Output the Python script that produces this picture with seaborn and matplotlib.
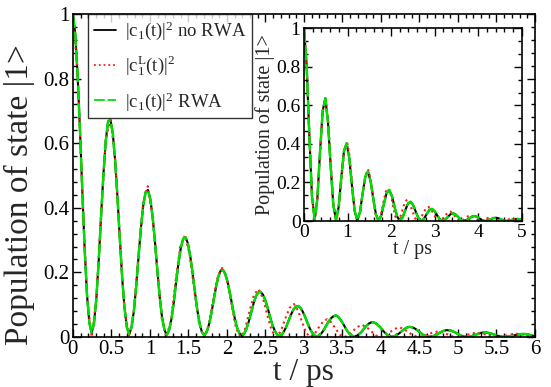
import numpy as np
import matplotlib
matplotlib.use("Agg")
import matplotlib.pyplot as plt
from matplotlib.ticker import MultipleLocator, FuncFormatter, AutoMinorLocator
from matplotlib.lines import Line2D
import seaborn as sns

# ---------------- data ----------------
# main panel: |c1(t)|^2 without RWA, sampled every 1/16 oscillation period
t_main = np.linspace(0, 198 * 0.03046875, 199)
pop_no_rwa = [
    1.000, 0.939, 0.813, 0.643, 0.453, 0.273, 0.132, 0.044, 0.012, 0.043, 0.120, 0.236, 0.373, 0.503, 0.607, 0.668,
    0.672, 0.631, 0.546, 0.432, 0.304, 0.183, 0.090, 0.030, 0.009, 0.030, 0.081, 0.159, 0.251, 0.338, 0.408, 0.449,
    0.455, 0.427, 0.370, 0.293, 0.206, 0.124, 0.061, 0.022, 0.007, 0.021, 0.056, 0.107, 0.170, 0.229, 0.276, 0.304,
    0.309, 0.290, 0.251, 0.199, 0.140, 0.084, 0.042, 0.015, 0.005, 0.015, 0.038, 0.073, 0.115, 0.155, 0.188, 0.206,
    0.207, 0.194, 0.168, 0.133, 0.094, 0.057, 0.028, 0.011, 0.004, 0.010, 0.026, 0.049, 0.077, 0.104, 0.126, 0.138,
    0.140, 0.131, 0.114, 0.090, 0.063, 0.038, 0.020, 0.008, 0.003, 0.007, 0.018, 0.033, 0.052, 0.070, 0.085, 0.094,
    0.096, 0.090, 0.078, 0.062, 0.043, 0.026, 0.013, 0.005, 0.002, 0.005, 0.012, 0.023, 0.036, 0.048, 0.058, 0.064,
    0.067, 0.063, 0.054, 0.043, 0.030, 0.018, 0.009, 0.004, 0.002, 0.004, 0.009, 0.016, 0.025, 0.034, 0.041, 0.045,
    0.046, 0.043, 0.037, 0.030, 0.021, 0.013, 0.006, 0.002, 0.001, 0.002, 0.006, 0.011, 0.017, 0.023, 0.028, 0.031,
    0.031, 0.029, 0.025, 0.020, 0.014, 0.008, 0.004, 0.002, 0.001, 0.002, 0.004, 0.007, 0.012, 0.016, 0.019, 0.021,
    0.021, 0.020, 0.017, 0.014, 0.010, 0.006, 0.003, 0.001, 0.001, 0.001, 0.003, 0.005, 0.008, 0.011, 0.013, 0.014,
    0.014, 0.013, 0.011, 0.009, 0.006, 0.004, 0.002, 0.001, 0.0005, 0.001, 0.002, 0.003, 0.005, 0.007, 0.008, 0.009,
    0.0095, 0.009, 0.008, 0.006, 0.004, 0.003, 0.001,
]
# RWA curve lies on top of the non-RWA one
pop_rwa = list(pop_no_rwa)

# Lorentzian |c1^L(t)|^2 (slight phase drift at later times)
t_lor = [
    0.000, 0.061, 0.122, 0.183, 0.244, 0.304, 0.365, 0.426,
    0.487, 0.548, 0.608, 0.669, 0.730, 0.790, 0.851, 0.911,
    0.972, 1.032, 1.093, 1.153, 1.214, 1.274, 1.334, 1.395,
    1.455, 1.516, 1.578, 1.639, 1.700, 1.761, 1.822, 1.884,
    1.945, 2.003, 2.061, 2.119, 2.178, 2.236, 2.294, 2.352,
    2.410, 2.468, 2.525, 2.583, 2.640, 2.698, 2.755, 2.813,
    2.870, 2.924, 2.978, 3.031, 3.085, 3.139, 3.193, 3.246,
    3.300, 3.356, 3.413, 3.469, 3.525, 3.581, 3.638, 3.694,
    3.750, 3.811, 3.873, 3.934, 3.995, 4.056, 4.118, 4.179,
    4.240, 4.303, 4.365, 4.428, 4.490, 4.553, 4.615, 4.678,
    4.740, 4.804, 4.868, 4.931, 4.995, 5.059, 5.123, 5.186,
    5.250, 5.314, 5.378, 5.441, 5.505, 5.569, 5.633, 5.696,
    5.760, 5.824, 5.888, 5.951, 6.015,
]
pop_lor = [
    1.000, 0.813, 0.453, 0.126, 0.000, 0.114, 0.372, 0.606,
    0.680, 0.553, 0.308, 0.086, 0.000, 0.078, 0.253, 0.412,
    0.467, 0.380, 0.212, 0.059, 0.000, 0.053, 0.174, 0.283,
    0.314, 0.255, 0.142, 0.040, 0.000, 0.036, 0.117, 0.190,
    0.216, 0.176, 0.098, 0.027, 0.000, 0.025, 0.080, 0.131,
    0.148, 0.120, 0.067, 0.019, 0.000, 0.017, 0.055, 0.090,
    0.102, 0.082, 0.045, 0.012, 0.000, 0.010, 0.030, 0.047,
    0.055, 0.045, 0.025, 0.007, 0.000, 0.006, 0.019, 0.031,
    0.038, 0.031, 0.018, 0.005, 0.000, 0.004, 0.015, 0.025,
    0.030, 0.024, 0.013, 0.004, 0.000, 0.003, 0.009, 0.014,
    0.017, 0.014, 0.008, 0.002, 0.000, 0.002, 0.007, 0.011,
    0.013, 0.011, 0.006, 0.002, 0.000, 0.002, 0.005, 0.008,
    0.010, 0.008, 0.005, 0.001, 0.000,
]

# inset panel
t_inset = np.linspace(0, 82 * 0.06125, 83)
inset_no_rwa = [
    1.000, 0.806, 0.446, 0.128, 0.008, 0.114, 0.356, 0.571,
    0.637, 0.513, 0.284, 0.082, 0.006, 0.073, 0.227, 0.364,
    0.403, 0.325, 0.180, 0.052, 0.004, 0.047, 0.144, 0.230,
    0.256, 0.206, 0.114, 0.033, 0.003, 0.030, 0.091, 0.146,
    0.160, 0.129, 0.071, 0.021, 0.002, 0.019, 0.057, 0.091,
    0.100, 0.081, 0.045, 0.013, 0.002, 0.012, 0.036, 0.057,
    0.063, 0.051, 0.028, 0.008, 0.001, 0.008, 0.022, 0.036,
    0.040, 0.032, 0.018, 0.005, 0.001, 0.005, 0.014, 0.023,
    0.026, 0.021, 0.012, 0.003, 0.000, 0.003, 0.009, 0.015,
    0.017, 0.014, 0.008, 0.002, 0.000, 0.002, 0.006, 0.010,
    0.011, 0.009, 0.005,
]
inset_rwa = list(inset_no_rwa)
t_inset_lor = [
    0.000, 0.062, 0.124, 0.186, 0.248, 0.309, 0.371, 0.433,
    0.495, 0.557, 0.619, 0.681, 0.743, 0.804, 0.866, 0.928,
    0.990, 1.050, 1.110, 1.170, 1.230, 1.290, 1.350, 1.410,
    1.470, 1.529, 1.588, 1.646, 1.705, 1.764, 1.823, 1.881,
    1.940, 1.994, 2.048, 2.101, 2.155, 2.209, 2.263, 2.316,
    2.370, 2.431, 2.493, 2.554, 2.615, 2.676, 2.738, 2.799,
    2.860, 2.923, 2.985, 3.048, 3.110, 3.173, 3.235, 3.298,
    3.360, 3.419, 3.478, 3.536, 3.595, 3.654, 3.713, 3.771,
    3.830, 3.889, 3.948, 4.006, 4.065, 4.124, 4.183, 4.241,
    4.300, 4.360, 4.420, 4.480, 4.540, 4.600, 4.660, 4.720,
    4.780, 4.840, 4.900, 4.960, 5.020,
]
inset_lor = [
    1.000, 0.806, 0.446, 0.123, 0.000, 0.109, 0.354, 0.570,
    0.645, 0.520, 0.288, 0.079, 0.000, 0.070, 0.228, 0.368,
    0.412, 0.332, 0.184, 0.051, 0.000, 0.045, 0.146, 0.235,
    0.270, 0.218, 0.120, 0.033, 0.000, 0.029, 0.096, 0.154,
    0.170, 0.137, 0.076, 0.021, 0.000, 0.019, 0.060, 0.097,
    0.112, 0.090, 0.050, 0.014, 0.000, 0.012, 0.040, 0.064,
    0.073, 0.059, 0.033, 0.009, 0.000, 0.008, 0.026, 0.042,
    0.049, 0.039, 0.021, 0.006, 0.000, 0.005, 0.016, 0.025,
    0.028, 0.023, 0.012, 0.003, 0.000, 0.003, 0.010, 0.016,
    0.018, 0.015, 0.008, 0.002, 0.000, 0.002, 0.006, 0.010,
    0.012, 0.010, 0.005, 0.001, 0.000,
]

labels = [r"|c$_1$(t)|$^2$ no RWA", r"|c$_1^{\rm L}$(t)|$^2$", r"|c$_1$(t)|$^2$ RWA"]
xlabel = "t / ps"
ylabel = "Population of state |1>"

# ---------------- style ----------------
sns.set_theme(style="ticks")
plt.rcParams["font.family"] = ["Liberation Serif", "DejaVu Serif"]
plt.rcParams["mathtext.fontset"] = "custom"
plt.rcParams["mathtext.rm"] = "Liberation Serif"
plt.rcParams["mathtext.it"] = "Liberation Serif"
plt.rcParams["mathtext.default"] = "rm"
plt.rcParams["axes.linewidth"] = 1.2

BLACK = "#000000"
RED = "#ff1a1a"
GREEN = "#00e000"
GREEN_DASH = (6, 1.5)

fig = plt.figure(figsize=(5.51, 3.87), dpi=100)
ax = fig.add_axes([0.1323, 0.1292, 0.8386, 0.8346])
axin = fig.add_axes([0.5517, 0.4289, 0.3951, 0.4980])

fmt = FuncFormatter(lambda v, p: "%g" % round(v, 3))


def draw(a, t_nr, y_nr, t_l, y_l, t_r, y_r, lw):
    sns.lineplot(x=t_nr, y=y_nr, ax=a, color=BLACK, lw=lw, sort=False,
                 estimator=None, legend=False)
    sns.lineplot(x=t_l, y=y_l, ax=a, color=RED, lw=lw, sort=False,
                 estimator=None, legend=False, linestyle=":")
    g = sns.lineplot(x=t_r, y=y_r, ax=a, color=GREEN, lw=lw * 1.15, sort=False,
                     estimator=None, legend=False)
    g.lines[-1].set_dashes(GREEN_DASH)


def style_axes(a, xmax, xmaj, xmin, ymin_loc, tick_fs, xlab_fs, ylab_fs, xpad, ypad):
    a.set_xlim(0, xmax)
    a.set_ylim(0, 1)
    a.xaxis.set_major_locator(MultipleLocator(xmaj))
    a.xaxis.set_minor_locator(MultipleLocator(xmin))
    a.yaxis.set_major_locator(MultipleLocator(0.2))
    a.yaxis.set_minor_locator(ymin_loc)
    a.xaxis.set_major_formatter(fmt)
    a.yaxis.set_major_formatter(fmt)
    a.tick_params(which="both", direction="in", top=True, right=True,
                  colors="black", width=1.0)
    a.tick_params(which="major", length=5.5, labelsize=tick_fs, pad=2.5)
    a.tick_params(which="minor", length=3)
    for s in a.spines.values():
        s.set_color("black")
        s.set_linewidth(1.2)
    a.set_xlabel(xlabel, fontsize=xlab_fs, labelpad=xpad)
    a.set_ylabel(ylabel, fontsize=ylab_fs, labelpad=ypad)
    a.set_facecolor("white")


draw(ax, t_main, pop_no_rwa, t_lor, pop_lor, t_main, pop_rwa, 1.5)
style_axes(ax, 6, 0.5, 0.1, MultipleLocator(0.04), 15, 22.5, 24, -1, 2)
ax.yaxis.set_label_coords(-0.082, 0.44)

draw(axin, t_inset, inset_no_rwa, t_inset_lor, inset_lor, t_inset, inset_rwa, 1.5)
style_axes(axin, 5, 1, 0.2, AutoMinorLocator(3), 14, 14.5, 14.5, -1, 1)

handles = [
    Line2D([], [], color=BLACK, lw=1.3),
    Line2D([], [], color=RED, lw=1.3, linestyle=":"),
    Line2D([], [], color=GREEN, lw=1.3, dashes=GREEN_DASH),
]
leg = ax.legend(handles, labels, loc="upper left", bbox_to_anchor=(0.0327, 1.0),
                borderaxespad=0, frameon=True, fancybox=False, fontsize=13.5,
                handlelength=1.2, handletextpad=0.45, labelspacing=0.64,
                borderpad=0.3)
leg.get_frame().set_edgecolor("black")
leg.get_frame().set_linewidth(1.0)

fig.savefig("out.png", dpi=100)
